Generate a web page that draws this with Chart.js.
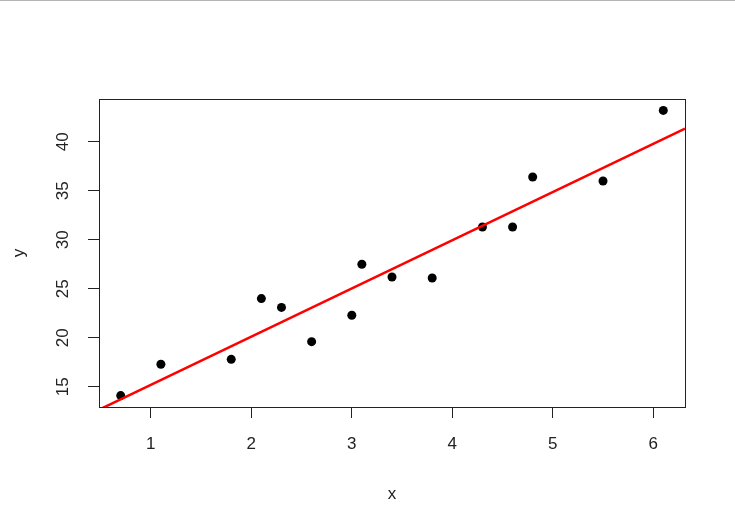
<!DOCTYPE html>
<html><head><meta charset="utf-8">
<script src="https://cdn.jsdelivr.net/npm/chart.js@4/dist/chart.umd.min.js"></script>
<style>html,body{margin:0;padding:0;background:#fff;} canvas{display:block;}</style>
</head><body>
<canvas id="c" width="735" height="528"></canvas>
<script>
const distance = [3.4, 1.8, 4.6, 2.3, 3.1, 5.5, 0.7, 3.0, 2.6, 4.3, 2.1, 1.1, 6.1, 4.8, 3.8];
const damage   = [26.2, 17.8, 31.3, 23.1, 27.5, 36.0, 14.1, 22.3, 19.6, 31.3, 24.0, 17.3, 43.2, 36.4, 26.1];
const xTickValues = [1, 2, 3, 4, 5, 6];
const yTickValues = [15, 20, 25, 30, 35, 40];
const xLabel = 'x';
const yLabel = 'y';

function rRange(a){ const lo=Math.min(...a), hi=Math.max(...a), d=(hi-lo)*0.04; return [lo-d, hi+d]; }
const [xMin, xMax] = rRange(distance);
const [yMin, yMax] = rRange(damage);

const n = distance.length;
const mx = distance.reduce((s,v)=>s+v,0)/n, my = damage.reduce((s,v)=>s+v,0)/n;
let sxy=0, sxx=0;
for (let i=0;i<n;i++){ sxy+=(distance[i]-mx)*(damage[i]-my); sxx+=(distance[i]-mx)**2; }
const slope = sxy/sxx, intercept = my - slope*mx;

const points = distance.map((x,i)=>({x, y: damage[i]}));
const fitLine = [xMin, xMax].map(x=>({x, y: intercept + slope*x}));

const INK = '#222';
const FONT = {family: '"Liberation Sans", Arial, sans-serif', size: 17};

const boxPlugin = {
  id: 'box',
  beforeDraw(chart){
    const ctx = chart.ctx;
    ctx.save();
    ctx.fillStyle = '#b4b4b4';
    ctx.fillRect(0, 0, chart.width, 1);
    ctx.restore();
  },
  afterDatasetsDraw(chart){
    const {ctx, chartArea: a} = chart;
    ctx.save();
    ctx.strokeStyle = INK;
    ctx.lineWidth = 1;
    ctx.strokeRect(Math.round(a.left)+0.5, Math.round(a.top)+0.5, Math.round(a.right-a.left), Math.round(a.bottom-a.top));
    ctx.restore();
  }
};

new Chart(document.getElementById('c'), {
  data: {
    datasets: [
      { type: 'line', data: fitLine, borderColor: '#ff0000', borderWidth: 2.5, pointRadius: 0, fill: false, tension: 0 },
      { type: 'scatter', data: points, backgroundColor: '#000', borderColor: '#000', pointRadius: 4.5, borderWidth: 0 }
    ]
  },
  options: {
    responsive: false,
    animation: false,
    events: [],
    layout: { padding: { top: 99, right: 50, left: 0, bottom: 0 } },
    plugins: { legend: { display: false }, tooltip: { enabled: false } },
    scales: {
      x: {
        type: 'linear', position: 'bottom', min: xMin, max: xMax,
        afterBuildTicks: s => { s.ticks = xTickValues.map(v=>({value: v})); },
        afterFit: s => { s.height = 121; },
        grid: { drawOnChartArea: false, drawTicks: true, tickLength: 11, color: INK, lineWidth: 1 },
        border: { display: false },
        ticks: { font: FONT, color: INK, padding: 16, autoSkip: false, maxRotation: 0, minRotation: 0, callback: v => String(v) },
        title: { display: true, text: xLabel, font: FONT, color: INK, padding: { top: 0, bottom: 23 } }
      },
      y: {
        type: 'linear', position: 'left', min: yMin, max: yMax,
        afterBuildTicks: s => { s.ticks = yTickValues.map(v=>({value: v})); },
        afterFit: s => { s.width = 99; },
        grid: { drawOnChartArea: false, drawTicks: true, tickLength: 11, color: INK, lineWidth: 1 },
        border: { display: false },
        ticks: { font: FONT, color: INK, padding: 15, autoSkip: false, minRotation: 90, maxRotation: 90, crossAlign: 'center', callback: v => String(v) },
        title: { display: true, text: yLabel, font: FONT, color: INK, padding: { top: 9, bottom: 0 } }
      }
    }
  },
  plugins: [boxPlugin]
});
</script>
</body></html>
